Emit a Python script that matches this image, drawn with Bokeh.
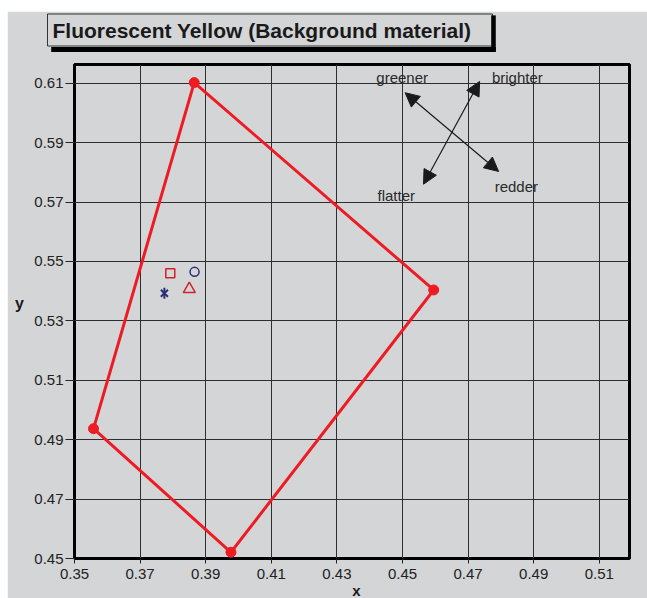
import math
from bokeh.plotting import figure
from bokeh.models import Range1d, FixedTicker, Label, Arrow, NormalHead
from bokeh.embed import file_html
from bokeh.resources import INLINE
from bokeh.core.properties import value

# ---------------- data ----------------
title_text = "Fluorescent Yellow (Background material)"
x_label = "x"
y_label = "y"
x_ticks = [0.35, 0.37, 0.39, 0.41, 0.43, 0.45, 0.47, 0.49, 0.51]
y_ticks = [0.45, 0.47, 0.49, 0.51, 0.53, 0.55, 0.57, 0.59, 0.61]

# gamut polygon corners
gamut_x = [0.3865, 0.4595, 0.3977, 0.3558]
gamut_y = [0.6102, 0.5404, 0.4521, 0.4937]

# measured samples
square_x = [0.3792]
square_y = [0.5460]
circle_x = [0.3866]
circle_y = [0.5465]
triangle_x = [0.3850]
triangle_y = [0.5407]
star_x = [0.3774]
star_y = [0.5393]

# direction arrows
arrow_x0 = [0.4508, 0.4735]
arrow_y0 = [0.6068, 0.6106]
arrow_x1 = [0.4793, 0.4564]
arrow_y1 = [0.5803, 0.5760]

dir_labels = ["greener", "brighter", "flatter", "redder"]
dir_label_x = [0.4499, 0.4850, 0.4481, 0.4847]
dir_label_y = [0.6120, 0.6120, 0.5723, 0.5753]

# ---------------- styling ----------------
BG = "#d4d5d7"
RED = "#ed1c24"
MRED = "#d2232a"
NAVY = "#2b2f7a"
FONT = "Liberation Sans"

p = figure(width=640, height=587, output_backend="svg", toolbar_location=None,
           x_range=Range1d(0.35, 0.5192), y_range=Range1d(0.45, 0.6163),
           min_border_left=67, min_border_right=18, min_border_top=53, min_border_bottom=39)
p.margin = (11, 0, 0, 7)
p.background_fill_color = BG
p.border_fill_color = BG
p.outline_line_color = "black"
p.outline_line_width = 3

for ax in (p.xaxis[0], p.yaxis[0]):
    ax.axis_line_color = None
    ax.major_tick_line_color = "#222222"
    ax.minor_tick_line_color = None
    ax.major_tick_in = 0
    ax.major_label_text_font = FONT
    ax.major_label_text_font_size = "15px"
    ax.major_label_text_color = "#222222"

p.xaxis.ticker = FixedTicker(ticks=x_ticks)
p.yaxis.ticker = FixedTicker(ticks=y_ticks)
p.xaxis.major_tick_out = 5
p.xaxis.major_label_standoff = 5
p.yaxis.major_tick_out = 9
p.yaxis.major_label_standoff = 2

p.xgrid.ticker = FixedTicker(ticks=x_ticks)
p.ygrid.ticker = FixedTicker(ticks=y_ticks)
for g in (p.xgrid[0], p.ygrid[0]):
    g.grid_line_color = "#2e2e2e"
    g.grid_line_width = 1

# gamut polygon
p.patch(gamut_x, gamut_y, fill_color=None, line_color=RED, line_width=3)
p.scatter(gamut_x, gamut_y, marker="circle", size=10, fill_color=RED, line_color=RED)

# samples
p.scatter(square_x, square_y, marker="square", size=9, fill_color=None, line_color=MRED, line_width=1.5)
p.scatter(circle_x, circle_y, marker="circle", size=9, fill_color=None, line_color=NAVY, line_width=1.5)
p.scatter(triangle_x, triangle_y, marker="triangle", size=12, fill_color=None, line_color=MRED, line_width=1.5)
p.scatter(star_x, star_y, marker="x", size=10, line_color=NAVY, line_width=2)
p.scatter(star_x, star_y, marker="dash", size=11, angle=math.pi / 2, line_color=NAVY, line_width=2)

# arrows
for i in range(len(arrow_x0)):
    p.add_layout(Arrow(x_start=arrow_x0[i], y_start=arrow_y0[i], x_end=arrow_x1[i], y_end=arrow_y1[i],
                       line_color="#1a1a1a", line_width=1.2,
                       start=NormalHead(size=14, fill_color="#1a1a1a", line_color="#1a1a1a"),
                       end=NormalHead(size=14, fill_color="#1a1a1a", line_color="#1a1a1a")))

p.text(dir_label_x, dir_label_y, text=dir_labels, text_font=value(FONT), text_font_size="15px",
       text_color="#2a2a2a", text_align="center", text_baseline="middle")

# title box (panel "above" so that it is not clipped to the frame)
p.add_layout(Label(x=40, y=18.5, x_units="canvas", y_units="canvas", text=title_text,
                   text_font=FONT, text_font_style="bold", text_font_size="21px",
                   text_color="#1a1a1a", text_baseline="middle",
                   padding=dict(left=5, right=21, top=5, bottom=4),
                   background_fill_color=BG, background_fill_alpha=1,
                   border_line_color="#333333", border_line_width=1), "above")
# drop shadow: a thin bottom strip and a thin right strip (blank labels with a black box)
p.add_layout(Label(x=266, y=38, x_units="canvas", y_units="canvas", text=" ",
                   text_font_size="2px", text_color="black", text_align="center", text_baseline="middle",
                   padding=dict(left=222, right=222, top=2, bottom=1),
                   background_fill_color="black", background_fill_alpha=1), "above")
p.add_layout(Label(x=486, y=22, x_units="canvas", y_units="canvas", text=" ",
                   text_font_size="2px", text_color="black", text_align="center", text_baseline="middle",
                   padding=dict(left=2, right=2, top=17, bottom=17),
                   background_fill_color="black", background_fill_alpha=1), "right")

# axis labels
p.add_layout(Label(x=349, y=579, x_units="canvas", y_units="canvas", text=x_label,
                   text_font=FONT, text_font_style="bold", text_font_size="15px",
                   text_color="#1a1a1a", text_align="center", text_baseline="middle"), "below")
p.add_layout(Label(x=12, y=292, x_units="canvas", y_units="canvas", text=y_label,
                   text_font=FONT, text_font_style="bold", text_font_size="16px",
                   text_color="#1a1a1a", text_align="center", text_baseline="middle"), "left")

open("out.html", "w").write(file_html(p, INLINE))
